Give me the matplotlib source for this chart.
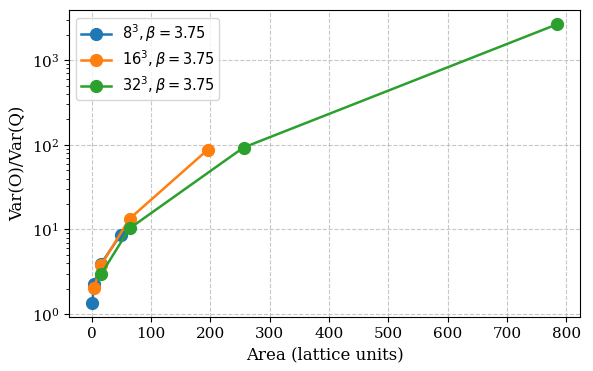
# %% Imports & config
import matplotlib
matplotlib.use("Agg")
import matplotlib.pyplot as plt

plt.rcParams["font.family"] = "serif"
plt.rcParams["font.serif"] = ["DejaVu Serif"]
plt.rcParams["mathtext.fontset"] = "dejavusans"

# %% Data
area_8 = [1, 4, 16, 49]
ratio_8 = [1.35, 2.26, 3.95, 8.7]

area_16 = [4, 16, 64, 196]
ratio_16 = [2.05, 3.8, 13.4, 88]

area_32 = [16, 64, 256, 784]
ratio_32 = [2.97, 10.3, 93, 2650]

labels = [r"$8^3, \beta=3.75$", r"$16^3, \beta=3.75$", r"$32^3, \beta=3.75$"]

# %% Plot
fig, ax = plt.subplots(figsize=(5.93, 3.71), dpi=100)
fig.subplots_adjust(left=0.1164, right=0.978, top=0.9717, bottom=0.1456)

for x, y, lab in zip([area_8, area_16, area_32], [ratio_8, ratio_16, ratio_32], labels):
    ax.plot(x, y, "o-", markersize=8.5, linewidth=1.8, label=lab)

ax.set_yscale("log")
ax.set_xlabel("Area (lattice units)", fontsize=12)
ax.set_ylabel("Var(O)/Var(Q)", fontsize=12)
ax.tick_params(labelsize=11)
ax.grid(True, which="major", linestyle="--", color="#b0b0b0", alpha=0.7)
ax.set_xticks(range(0, 900, 100))
leg = ax.legend(loc="upper left", fontsize=10.5, labelspacing=0.3,
                borderpad=0.3, handlelength=2.1, handletextpad=0.7)
for t in leg.get_texts():
    t.set_family("DejaVu Sans")

fig.savefig("out.png")
